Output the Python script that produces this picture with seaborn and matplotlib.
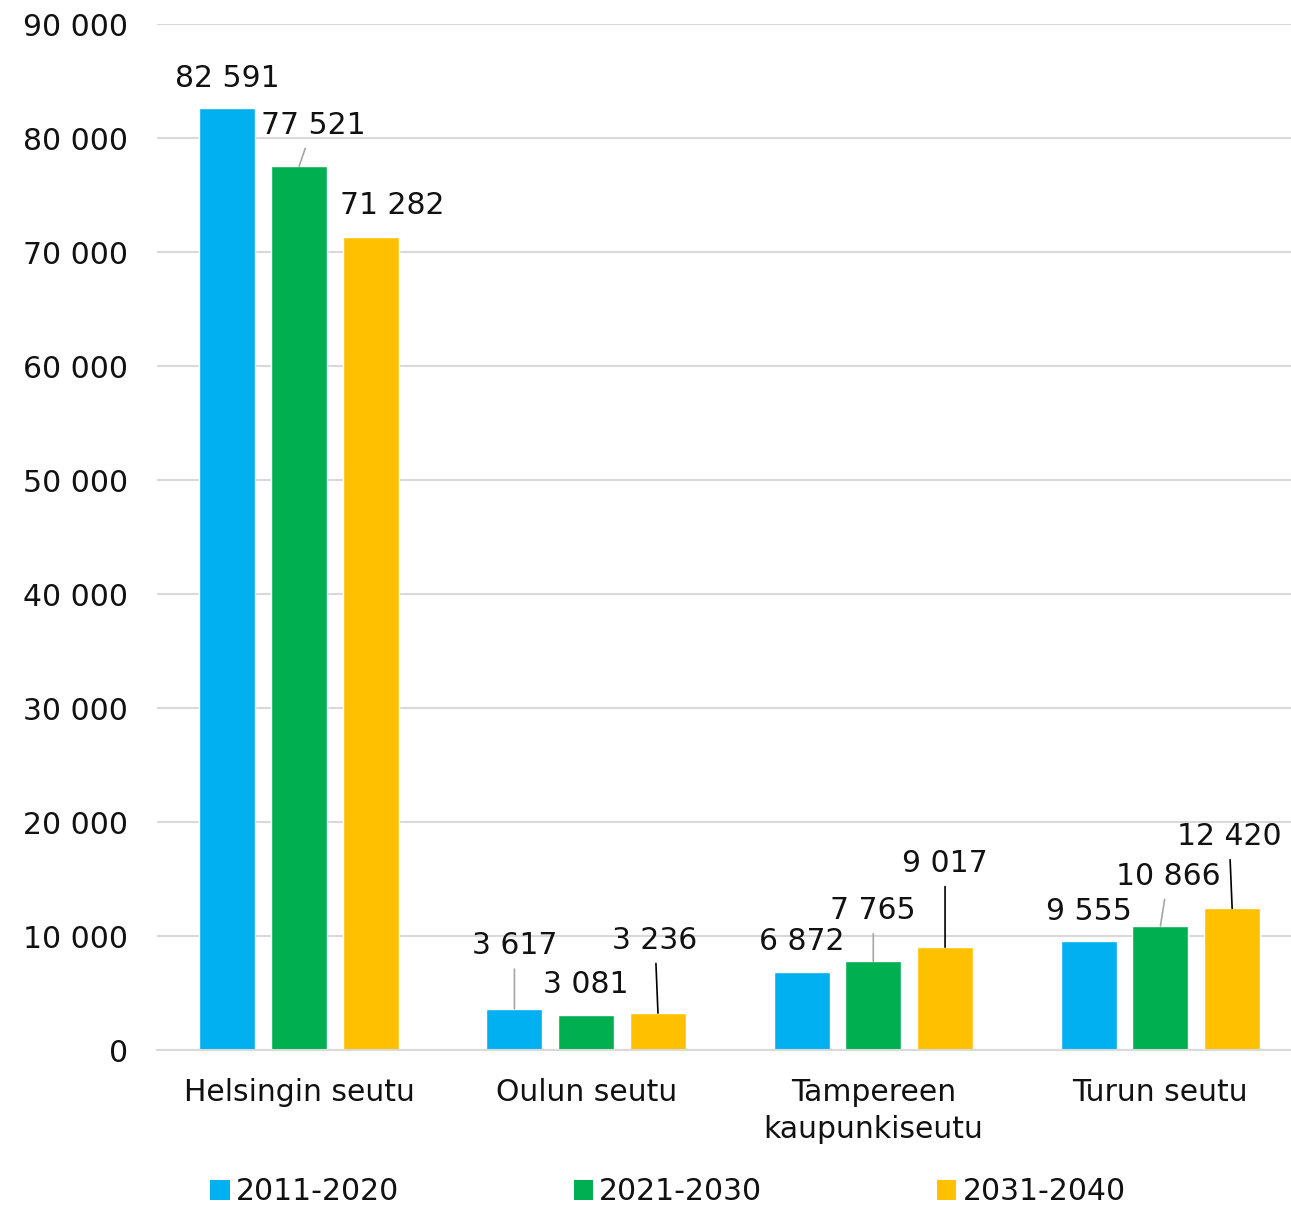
import matplotlib
matplotlib.use("Agg")
import matplotlib.pyplot as plt
import seaborn as sns
import pandas as pd
from matplotlib.patches import Patch

regions = ["Helsingin seutu", "Oulun seutu", "Tampereen\nkaupunkiseutu", "Turun seutu"]
periods = ["2011-2020", "2021-2030", "2031-2040"]
v2011_2020 = [82591, 3617, 6872, 9555]
v2021_2030 = [77521, 3081, 7765, 10866]
v2031_2040 = [71282, 3236, 9017, 12420]
yticks = [0, 10000, 20000, 30000, 40000, 50000, 60000, 70000, 80000, 90000]

colors = ["#00B0F0", "#00B050", "#FFC000"]

rows = []
for p, vals in zip(periods, [v2011_2020, v2021_2030, v2031_2040]):
    for r, v in zip(regions, vals):
        rows.append({"region": r, "period": p, "value": v})
df = pd.DataFrame(rows)

sns.set_theme(style="white")
plt.rcParams["font.family"] = ["DejaVu Sans"]
FS = 21.5

fig = plt.figure(figsize=(12.91, 12.06), dpi=100)
ax = fig.add_axes([157/1291, 1-1050/1206, 1-157/1291, (1050-24)/1206])

sns.barplot(data=df, x="region", y="value", hue="period", order=regions,
            hue_order=periods, palette=colors, width=0.75, gap=0.22,
            saturation=1, ax=ax, legend=False)

ax.set_ylim(0, 90000)
ax.set_xlim(-0.495, 3.455)
ax.set_yticks(yticks)
ax.set_yticklabels([f"{t:,}".replace(",", " ") for t in yticks], fontsize=FS, color="#111111")
ax.tick_params(axis="x", length=0, pad=20, labelsize=FS, labelcolor="#111111")
ax.tick_params(axis="y", length=0, pad=21)
ax.set_xlabel("")
ax.set_ylabel("")
for t in ax.get_xticklabels():
    t.set_linespacing(1.35)
ax.yaxis.grid(True, color="#d9d9d9", lw=1.5)
ax.set_axisbelow(True)
for s in ["top", "right", "left"]:
    ax.spines[s].set_visible(False)
ax.spines["bottom"].set_color("#d9d9d9")
ax.spines["bottom"].set_linewidth(1.5)

# label offsets in pixels (dx, dy) and leader line colour (None = no line)
offsets = [
    [(0, 30, None), (0, 63, "#a6a6a6"), (0, 30, None), (0, 30, None)],
    [(14, 41, "#a6a6a6"), (0, 30, None), (0, 51, "#a6a6a6"), (8, 50, "#a6a6a6")],
    [(21, 32, None), (-3, 73, "#000000"), (0, 84, "#000000"), (-3, 72, "#000000")],
]

for ci, cont in enumerate(ax.containers):
    for bi, bar in enumerate(cont):
        h = bar.get_height()
        xc = bar.get_x() + bar.get_width() / 2
        dx, dy, lc = offsets[ci][bi]
        kw = {}
        if lc is not None:
            kw["arrowprops"] = dict(arrowstyle="-", color=lc, lw=1.2, shrinkA=4, shrinkB=0)
        ax.annotate(f"{int(h):,}".replace(",", " "), xy=(xc, h), xytext=(dx, dy),
                    textcoords="offset pixels", ha="center", va="center",
                    fontsize=FS, color="#111111", annotation_clip=False, **kw)

handles = [Patch(facecolor=c, edgecolor="none") for c in colors]
fig.legend(handles, periods, loc="center", bbox_to_anchor=(668/1291, 1-1192/1206),
           ncol=3, frameon=False, fontsize=FS, handlelength=0.65, handleheight=0.65,
           handletextpad=0.2, columnspacing=5.85, labelcolor="#111111")

fig.savefig("out.png", dpi=100)
